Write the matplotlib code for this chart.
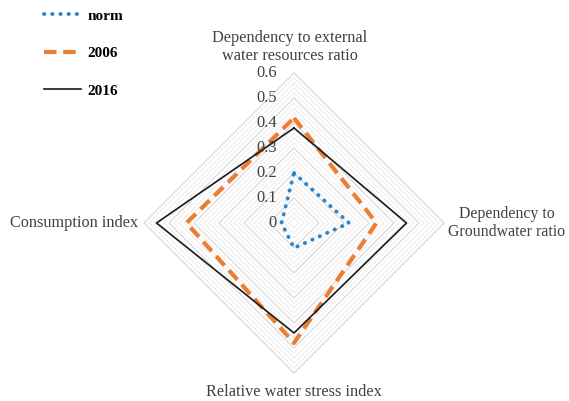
import numpy as np
import matplotlib
matplotlib.use("Agg")
import matplotlib.pyplot as plt
from matplotlib.lines import Line2D

categories = ["Dependency to external\nwater resources ratio",
              "Dependency to\nGroundwater ratio",
              "Relative water stress index",
              "Consumption index"]
series_names = ["norm", "2006", "2016"]
norm = [0.20, 0.22, 0.10, 0.05]
y2006 = [0.42, 0.33, 0.48, 0.43]
y2016 = [0.38, 0.45, 0.44, 0.55]
tick_values = [0, 0.1, 0.2, 0.3, 0.4, 0.5, 0.6]
tick_labels = ["0", "0.1", "0.2", "0.3", "0.4", "0.5", "0.6"]

plt.rcParams['font.family'] = ['Liberation Serif', 'DejaVu Serif']

W, H = 569, 401
fig = plt.figure(figsize=(W / 100, H / 100), dpi=100)
cx, cy, R = 294, 223, 150
ax = fig.add_axes([(cx - R) / W, 1 - (cy + R) / H, 2 * R / W, 2 * R / H], projection='polar')
ax.set_theta_zero_location('N')
ax.set_theta_direction(-1)
ax.set_ylim(0, 0.6)
ax.axis('off')

n = len(categories)
theta = np.arange(n) * 2 * np.pi / n
theta_c = np.append(theta, theta[0])

# grid polygons
for r in np.arange(0.02, 0.6001, 0.02):
    major = abs(r * 10 - round(r * 10)) < 1e-6
    ax.plot(theta_c, [r] * (n + 1), color='#d9d9d9' if major else '#ebebeb',
            lw=0.9 if major else 0.7, zorder=1, clip_on=False)

def closed(v):
    return list(v) + [v[0]]

dot_style = (0, (0.1, 2.0))
ax.plot(theta_c, closed(norm), color='#2E86C9', lw=2.8, linestyle=dot_style,
        dash_capstyle='round', zorder=3, clip_on=False)
ax.plot(theta_c, closed(y2006), color='#ED7D31', lw=3.0, linestyle=(0, (3.0, 1.6)),
        zorder=3, clip_on=False)
ax.plot(theta_c, closed(y2016), color='#1a1a1a', lw=1.2, zorder=4, clip_on=False)

# radial tick labels along the top axis
for v, lab in zip(tick_values, tick_labels):
    fig.text((cx - 17) / W, 1 - (cy - v / 0.6 * R) / H, lab, ha='right', va='center',
             fontsize=11.8, color='#404040')

# category labels
fs = 11.7
fig.text(290 / W, 1 - 47 / H, categories[0], ha='center', va='center', fontsize=fs,
         color='#404040', linespacing=1.1)
fig.text(507 / W, 1 - 223 / H, categories[1], ha='center', va='center', fontsize=11.4,
         color='#404040', linespacing=1.1)
fig.text(294 / W, 1 - 392 / H, categories[2], ha='center', va='center', fontsize=fs,
         color='#404040')
fig.text(10 / W, 1 - 223 / H, categories[3], ha='left', va='center', fontsize=fs,
         color='#404040')

handles = [Line2D([], [], color='#2E86C9', lw=2.8, linestyle=dot_style, dash_capstyle='round'),
           Line2D([], [], color='#ED7D31', lw=3.0, linestyle=(0, (3.0, 1.6))),
           Line2D([], [], color='#1a1a1a', lw=1.2)]
fig.legend(handles, series_names, loc='upper left', bbox_to_anchor=(38 / W, 1 - 3 / H),
           frameon=False, prop={'weight': 'bold', 'size': 11}, handlelength=2.4,
           handletextpad=0.45, labelspacing=1.55, borderaxespad=0)

fig.savefig('out.png', dpi=100)
